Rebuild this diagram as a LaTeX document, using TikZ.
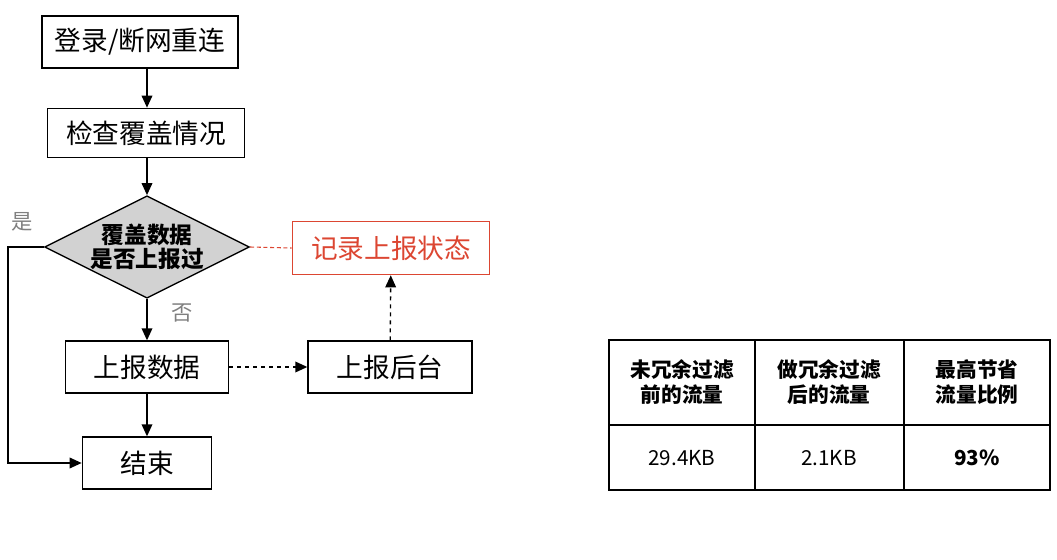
\documentclass[tikz,border=0pt]{standalone}
\usepackage{fontspec}
\setmainfont{Noto Sans CJK SC}
\usetikzlibrary{shapes.geometric,arrows.meta}
\definecolor{redc}{RGB}{220,70,50}
\begin{document}
\begin{tikzpicture}[x=0.75pt,y=-0.75pt,
  box/.style={draw,line width=1pt,font=\fontsize{20}{22}\selectfont,inner sep=0pt},
  arr/.style={-{Triangle[length=9pt,width=8pt]},line width=1pt},
  lab/.style={text=gray,font=\fontsize{16}{18}\selectfont},
  cell/.style={font=\fontsize{15.5}{18}\selectfont}]
\useasboundingbox (0,0) rectangle (1057,560);
\node[box,minimum width=147pt,minimum height=39pt] (a) at (140,42) {登录/断网重连};
\node[box,minimum width=148pt,minimum height=37pt] (b) at (146,133) {检查覆盖情况};
\node[draw,line width=1pt,fill=gray!35,diamond,aspect=2,minimum width=148pt,minimum height=74pt,inner sep=0pt,align=center,font=\fontsize{17}{18}\selectfont\bfseries] (c) at (147,247) {覆盖数据\\是否上报过};
\node[box,draw=redc,text=redc,minimum width=148pt,minimum height=40pt] (r) at (391,248) {记录上报状态};
\node[box,minimum width=122pt,minimum height=39pt] (d) at (147,367) {上报数据};
\node[box,minimum width=123pt,minimum height=39pt] (e) at (390,367) {上报后台};
\node[box,minimum width=97pt,minimum height=39pt] (f) at (147,463) {结束};
\node[lab] (yes) at (22,222) {是};
\node[lab] (no) at (182,313) {否};
\coordinate (k1) at (8,247);
\coordinate (k2) at (8,463);
\draw[arr] (a.south -| 147,0) -- (b.north -| 147,0);
\draw[arr] (b.south -| 147,0) -- (c.north);
\draw[arr] (c) -- (d);
\draw[arr] (d) -- (f);
\draw[arr] (c.west) -- (k1) -- (k2) -- (f.west);
\draw[arr,dashed] (d) -- (e);
\draw[arr,dashed] (e) -- (r);
\draw[redc,densely dashed,line width=0.8pt] (c.east) -- (r.west);
% table
\draw[line width=1pt] (609,340) rectangle (1050,490);
\draw[line width=1pt] (755,340) -- (755,490) (904,340) -- (904,490) (609,425) -- (1050,425);
\node[cell,align=center,font=\fontsize{15.5}{19}\selectfont\bfseries] (h1) at (682,382) {未冗余过滤\\前的流量};
\node[cell,align=center,font=\fontsize{15.5}{19}\selectfont\bfseries] (h2) at (829,382) {做冗余过滤\\后的流量};
\node[cell,align=center,font=\fontsize{15.5}{19}\selectfont\bfseries] (h3) at (977,382) {最高节省\\流量比例};
\node[cell] (v1) at (682,458) {29.4KB};
\node[cell] (v2) at (829,458) {2.1KB};
\node[cell,font=\fontsize{15.5}{18}\selectfont\bfseries] (v3) at (977,458) {93\%};
\end{tikzpicture}
\end{document}
